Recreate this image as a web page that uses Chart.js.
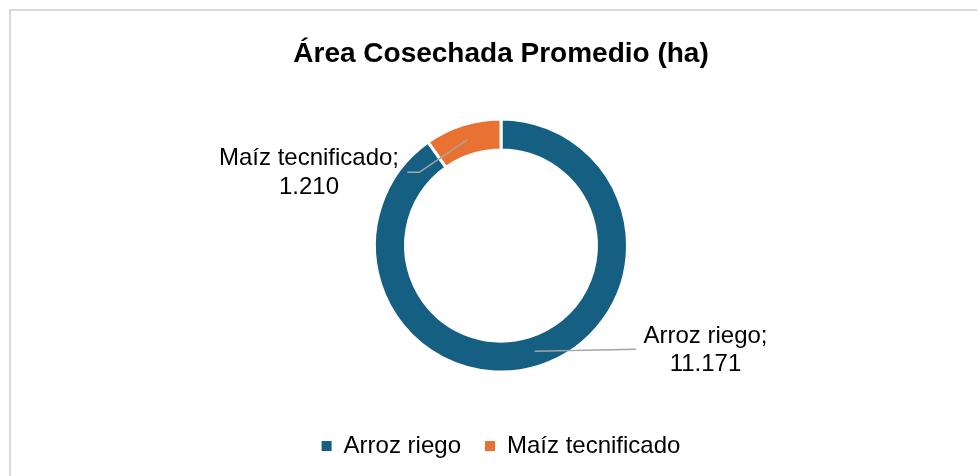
<!DOCTYPE html>
<html>
<head>
<meta charset="utf-8">
<script src="https://cdn.jsdelivr.net/npm/chart.js@4.4.0/dist/chart.umd.min.js"></script>
<style>
  html, body { margin: 0; padding: 0; background: #fff; overflow: hidden; }
  #marco { position: absolute; left: 9px; top: 9px; width: 1000px; height: 500px; border: 2px solid #d9d9d9; }
  #wrap { position: absolute; left: 0; top: 0; width: 977px; height: 476px; }
</style>
</head>
<body>
<div id="marco"></div>
<div id="wrap"><canvas id="grafico"></canvas></div>
<script>
// Datos del gráfico
const categorias = ['Arroz riego', 'Maíz tecnificado'];
const valores = [11171, 1210];
const colores = ['#156082', '#E97132'];

// Posiciones de las etiquetas (relativas al centro del anillo)
const posiciones = [
    { texto: [204.5, 105], fin: [135, 103.8] },
    { texto: [-192, -72.5], codo: [-81.7, -73.2], fin: [-93.7, -73.2] }
];

Chart.defaults.font.family = '"Liberation Sans", Arial, sans-serif';

function formatear(v) {
    return String(v).replace(/\B(?=(\d{3})+(?!\d))/g, '.');
}

// Etiquetas de datos con línea guía
const etiquetasDatos = {
    id: 'etiquetasDatos',
    afterDatasetsDraw(chart, args, opts) {
        const ctx = chart.ctx;
        chart.getDatasetMeta(0).data.forEach((arco, i) => {
            const pos = opts.posiciones[i];
            const { x, y, startAngle, endAngle, innerRadius, outerRadius } =
                arco.getProps(['x', 'y', 'startAngle', 'endAngle', 'innerRadius', 'outerRadius'], true);
            const ang = (startAngle + endAngle) / 2;
            const r = (innerRadius + outerRadius) / 2;
            ctx.save();
            ctx.strokeStyle = '#a6a6a6';
            ctx.lineWidth = 1.5;
            ctx.beginPath();
            ctx.moveTo(x + Math.cos(ang) * r, y + Math.sin(ang) * r);
            if (pos.codo) ctx.lineTo(x + pos.codo[0], y + pos.codo[1]);
            ctx.lineTo(x + pos.fin[0], y + pos.fin[1]);
            ctx.stroke();
            ctx.fillStyle = '#000';
            ctx.font = '24px "Liberation Sans", Arial, sans-serif';
            ctx.textAlign = 'center';
            ctx.textBaseline = 'middle';
            ctx.fillText(chart.data.labels[i] + ';', x + pos.texto[0], y + pos.texto[1] - 14.25);
            ctx.fillText(formatear(chart.data.datasets[0].data[i]), x + pos.texto[0], y + pos.texto[1] + 14.25);
            ctx.restore();
        });
    }
};

new Chart(document.getElementById('grafico'), {
    type: 'doughnut',
    data: {
        labels: categorias,
        datasets: [{
            data: valores,
            backgroundColor: colores,
            borderColor: '#ffffff',
            borderWidth: 3
        }]
    },
    options: {
        responsive: true,
        maintainAspectRatio: false,
        animation: false,
        radius: 126.5,
        cutout: '75.5%',
        layout: { padding: { left: 25, right: 0, top: 0, bottom: 8 } },
        plugins: {
            title: {
                display: true,
                text: 'Área Cosechada Promedio (ha)',
                color: '#000',
                font: { size: 28, weight: 'bold' },
                padding: { top: 37, bottom: 10.4 }
            },
            legend: {
                position: 'bottom',
                labels: {
                    boxWidth: 10,
                    boxHeight: 10,
                    padding: 24,
                    color: '#000',
                    font: { size: 24 },
                    generateLabels: function(chart) {
                        const items = Chart.overrides.doughnut.plugins.legend.labels.generateLabels(chart);
                        items.forEach(it => { it.lineWidth = 0; it.strokeStyle = 'rgba(0,0,0,0)'; });
                        return items;
                    }
                }
            },
            tooltip: { enabled: false },
            etiquetasDatos: { posiciones: posiciones }
        }
    },
    plugins: [etiquetasDatos]
});
</script>
</body>
</html>
